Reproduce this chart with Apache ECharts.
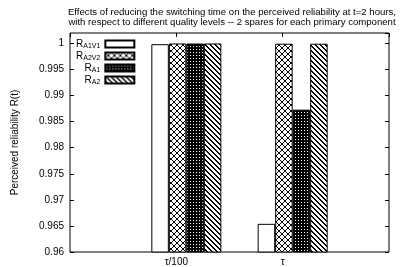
<!DOCTYPE html>
<html>
<head>
<meta charset="utf-8">
<script src="https://cdn.jsdelivr.net/npm/echarts@6/dist/echarts.min.js"></script>
<style>
  html, body { margin: 0; padding: 0; background: #fff; }
  #chart { width: 401px; height: 267px; }
</style>
</head>
<body>
<div id="chart"></div>
<script>
  // data
  const categories = ['τ/100', 'τ']
  const seriesNames = ['A1V1', 'A2V2', 'A1', 'A2']
  const rA1V1 = [0.99985, 0.9654]
  const rA2V2 = [0.99999, 0.99995]
  const rA1 = [0.99998, 0.9873]
  const rA2 = [0.99999, 0.99995]
  const yTicks = { min: 0.96, max: 1.002, step: 0.005 }

  // gnuplot style fill patterns, built pixel by pixel
  function makePattern(size, isBlack) {
    const c = document.createElement('canvas')
    c.width = size
    c.height = size
    const ctx = c.getContext('2d')
    ctx.fillStyle = '#fff'
    ctx.fillRect(0, 0, size, size)
    ctx.fillStyle = '#000'
    for (let x = 0; x < size; x++) {
      for (let y = 0; y < size; y++) {
        if (isBlack(x, y)) ctx.fillRect(x, y, 1, 1)
      }
    }
    return { image: c, repeat: 'repeat' }
  }
  const fills = [
    '#fff',
    makePattern(6, (x, y) => (x - y + 6) % 6 === 0 || (x + y) % 6 === 5),
    makePattern(3, (x, y) => !(x === 1 && y === 1)),
    makePattern(5, (x, y) => { const d = (x - y + 10) % 5; return d === 0 || d === 1 })
  ]

  // pad the two groups with empty slots on both ends so the labels land where gnuplot put them
  const axisCats = [''].concat(categories, [''])
  const pad = arr => ['-'].concat(arr, ['-'])

  const chart = echarts.init(document.getElementById('chart'))
  const font = 'Liberation Sans'
  const values = [rA1V1, rA2V2, rA1, rA2]

  const series = [{
    name: 'spacer',
    type: 'bar',
    barWidth: 20,
    barGap: '0%',
    silent: true,
    itemStyle: { color: 'transparent' },
    data: pad([null, null])
  }]
  seriesNames.forEach(function(n, i) {
    series.push({
      name: n,
      type: 'bar',
      barWidth: 17.5,
      barGap: '0%',
      itemStyle: { color: fills[i], borderColor: '#000', borderWidth: 1 },
      data: pad(values[i])
    })
  })

  const option = {
    animation: false,
    backgroundColor: '#fff',
    textStyle: { fontFamily: font },
    title: {
      text: 'Effects of reducing the switching time on the perceived reliability at t=2 hours,\nwith respect to different quality levels -- 2 spares for each primary component',
      left: 227,
      top: 2,
      textAlign: 'center',
      textStyle: { fontFamily: font, fontSize: 9.6, fontWeight: 'normal', color: '#000', lineHeight: 10 }
    },
    legend: {
      data: seriesNames,
      orient: 'vertical',
      left: 76,
      top: 39,
      align: 'right',
      itemWidth: 29,
      itemHeight: 7,
      itemGap: 1,
      padding: 0,
      icon: 'rect',
      formatter: function(name) { return '{r|R}{s|' + name + '}' },
      textStyle: {
        width: 30,
        align: 'right',
        color: '#000',
        rich: {
          r: { fontFamily: font, fontSize: 10, color: '#000', align: 'right' },
          s: { fontFamily: font, fontSize: 7, color: '#000', padding: [5, 0, 0, 0], align: 'right' }
        }
      }
    },
    grid: {
      left: 70, right: 12, top: 33, bottom: 13,
      show: true, borderColor: '#000', borderWidth: 1, backgroundColor: 'transparent'
    },
    xAxis: [{
      type: 'category',
      data: axisCats,
      boundaryGap: false,
      position: 'bottom',
      axisLine: { show: false },
      axisTick: { show: false },
      axisLabel: { color: '#000', fontSize: 10, margin: 5, interval: 0 },
      splitLine: { show: false }
    }, {
      type: 'category',
      data: axisCats,
      boundaryGap: false,
      position: 'top',
      axisLine: { show: false },
      axisTick: { show: true, inside: true, length: 4, lineStyle: { color: '#000' } },
      axisLabel: { show: false },
      splitLine: { show: false }
    }],
    yAxis: [{
      type: 'value',
      min: yTicks.min,
      max: yTicks.max,
      interval: yTicks.step,
      name: 'Perceived reliability R(t)',
      nameLocation: 'middle',
      nameGap: 50,
      nameTextStyle: { color: '#000', fontSize: 10, fontFamily: font },
      axisLine: { show: false },
      axisTick: { show: true, inside: true, length: 4, lineStyle: { color: '#000' } },
      axisLabel: { color: '#000', fontSize: 10, margin: 6, showMaxLabel: false },
      splitLine: { show: false }
    }, {
      type: 'value',
      position: 'right',
      min: yTicks.min,
      max: yTicks.max,
      interval: yTicks.step,
      axisLine: { show: false },
      axisTick: { show: true, inside: true, length: 4, lineStyle: { color: '#000' } },
      axisLabel: { show: false },
      splitLine: { show: false }
    }],
    series: series
  }
  chart.setOption(option)
</script>
</body>
</html>
